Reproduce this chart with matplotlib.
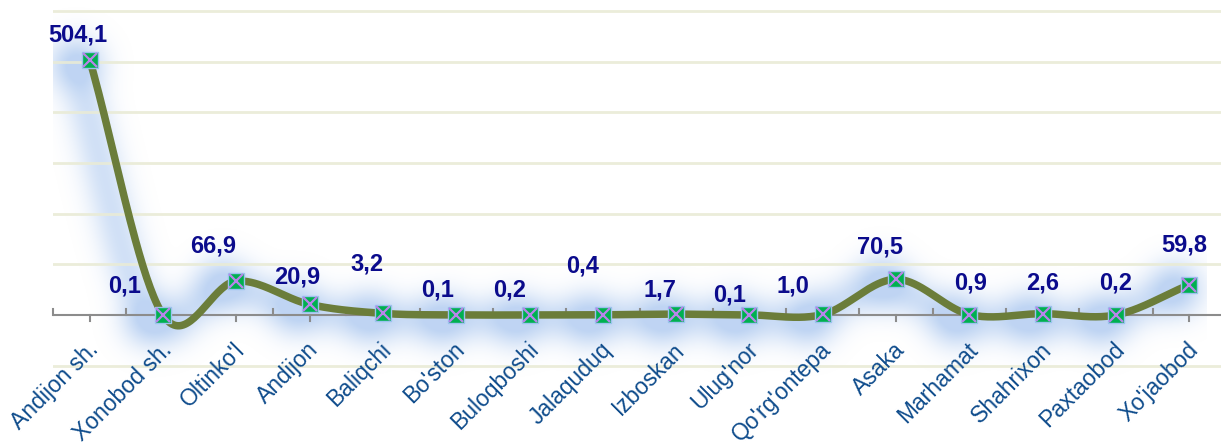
import numpy as np
import matplotlib
matplotlib.use("Agg")
import matplotlib.pyplot as plt
from matplotlib.transforms import offset_copy

categories = ["Andijon sh.", "Xonobod sh.", "Oltinko'l", "Andijon", "Baliqchi",
              "Bo'ston", "Buloqboshi", "Jalaquduq", "Izboskan", "Ulug'nor",
              "Qo'rg'ontepa", "Asaka", "Marhamat", "Shahrixon", "Paxtaobod", "Xo'jaobod"]
values = [504.1, 0.1, 66.9, 20.9, 3.2, 0.1, 0.2, 0.4, 1.7, 0.1, 1.0, 70.5, 0.9, 2.6, 0.2, 59.8]
value_labels = ["504,1", "0,1", "66,9", "20,9", "3,2", "0,1", "0,2", "0,4", "1,7",
                "0,1", "1,0", "70,5", "0,9", "2,6", "0,2", "59,8"]
grid_values = [-100, 100, 200, 300, 400, 500, 600]

# label offsets in pixels (dx, dy up)
label_offsets_px = [(-12, 25), (-38, 29), (-23, 35), (-12, 27), (-16, 49), (-19, 25),
                    (-20, 25), (-20, 49), (-16, 24), (-20, 20), (-30, 28), (-16, 32),
                    (1, 32), (0, 31), (0, 32), (-5, 40)]

plt.rcParams['font.family'] = ['Liberation Sans', 'DejaVu Sans']

W, H = 1221, 446
left_px = 53
step = (1226 - 53) / 16.0
ppu = (315 - 11) / 600.0  # pixels per unit
XLIM = (-0.5, -0.5 + (W - left_px) / step)
YLIM = (-(H - 315) / ppu, 315 / ppu)

x = np.arange(len(values)).astype(float)
y = np.array(values)


def catmull_rom(xs, ys, n=40):
    px = np.concatenate([[2 * xs[0] - xs[1]], xs, [2 * xs[-1] - xs[-2]]])
    py = np.concatenate([[2 * ys[0] - ys[1]], ys, [2 * ys[-1] - ys[-2]]])
    ox, oy = [], []
    for i in range(1, len(px) - 2):
        t = np.linspace(0, 1, n, endpoint=False)
        for arr, out in ((px, ox), (py, oy)):
            p0, p1, p2, p3 = arr[i - 1], arr[i], arr[i + 1], arr[i + 2]
            out.extend(0.5 * ((2 * p1) + (-p0 + p2) * t + (2 * p0 - 5 * p1 + 4 * p2 - p3) * t ** 2
                              + (-p0 + 3 * p1 - 3 * p2 + p3) * t ** 3))
    ox.append(xs[-1]); oy.append(ys[-1])
    return np.array(ox), np.array(oy)


sx, sy = catmull_rom(x, y)


def make_axes(fig):
    ax = fig.add_axes([left_px / W, 0, 1 - left_px / W, 1])
    ax.set_xlim(*XLIM)
    ax.set_ylim(*YLIM)
    ax.axis('off')
    return ax


# ---- glow mask rendered offscreen, then blurred ----
fig2 = plt.figure(figsize=(W / 100, H / 100), dpi=100)
fig2.patch.set_visible(False)
ax2 = make_axes(fig2)
ax2.patch.set_visible(False)
ax2.plot(sx, sy, color='k', lw=12, solid_capstyle='round', clip_on=False)
ax2.plot(x, y, ls='none', marker='o', ms=30, color='k', clip_on=False)
fig2.canvas.draw()
mask = np.asarray(fig2.canvas.buffer_rgba())[..., 3].astype(float) / 255.0
plt.close(fig2)


def blur(a, sigma):
    r = int(3 * sigma)
    k = np.exp(-0.5 * (np.arange(-r, r + 1) / sigma) ** 2)
    k /= k.sum()
    a = np.apply_along_axis(lambda m: np.convolve(m, k, mode='same'), 1, a)
    a = np.apply_along_axis(lambda m: np.convolve(m, k, mode='same'), 0, a)
    return a


def shift(a, dx, dy):
    out = np.zeros_like(a)
    h, w = a.shape
    xs0, xs1 = max(0, -dx), min(w, w - dx)
    ys0, ys1 = max(0, -dy), min(h, h - dy)
    out[ys0 + dy:ys1 + dy, xs0 + dx:xs1 + dx] = a[ys0:ys1, xs0:xs1]
    return out


glow = blur(mask, 15)
glow = shift(glow, -14, 4)
glow = np.clip(glow / max(glow.max(), 1e-9) * 1.25, 0, 1)
glow_rgba = np.zeros((H, W, 4))
glow_rgba[..., 0] = 0.62
glow_rgba[..., 1] = 0.75
glow_rgba[..., 2] = 0.93
glow_rgba[..., 3] = 0.66 * glow
glow_rgba = glow_rgba[:, left_px:, :]

# ---- main figure ----
fig = plt.figure(figsize=(W / 100, H / 100), dpi=100)
ax = make_axes(fig)

ax.imshow(glow_rgba, extent=(XLIM[0], XLIM[1], YLIM[0], YLIM[1]), origin='upper',
          aspect='auto', zorder=0.5, interpolation='bilinear')
ax.set_xlim(*XLIM)
ax.set_ylim(*YLIM)

for g in grid_values:
    ax.axhline(g, color='#e9ebd6', lw=2.0, alpha=0.9, zorder=1)

# axis line and ticks
ax.axhline(0, color='#8c8c8c', lw=1.5, zorder=2)
tick_len = 6 / ppu
for i in range(len(values) + 1):
    ax.plot([i - 0.5, i - 0.5], [0, tick_len], color='#8c8c8c', lw=1.5, zorder=2, clip_on=False)
for i in range(len(values)):
    ax.plot([i, i], [0, -tick_len], color='#8c8c8c', lw=1.5, zorder=2, clip_on=False)

# line
ax.plot(sx, sy, color='#6b7d3a', lw=5.4, solid_capstyle='round', zorder=3, clip_on=False)

# markers
ax.plot(x, y, ls='none', marker='s', ms=12, mfc='#00b050', mec='#9cc3ee', mew=1.0, zorder=4,
        clip_on=False)
ax.plot(x, y, ls='none', marker='x', ms=10, mec='#b885ea', mew=1.6, zorder=5, clip_on=False)

# value labels
for i, (v, lab) in enumerate(zip(values, value_labels)):
    dx, dy = label_offsets_px[i]
    tr = offset_copy(ax.transData, fig=fig, x=dx * 0.72, y=dy * 0.72, units='points')
    ax.text(i, v, lab, transform=tr, ha='center', va='center', fontsize=17,
            fontweight='bold', color='#0b0b8c', zorder=6)

# category labels
for i, c in enumerate(categories):
    tr = offset_copy(ax.transData, fig=fig, x=-3 * 0.72, y=-23 * 0.72, units='points')
    ax.text(i, 0, c, transform=tr, rotation=45, rotation_mode='anchor', ha='right', va='top',
            fontsize=16.5, color='#0f4c8c', zorder=6)

fig.savefig("out.png", dpi=100)
